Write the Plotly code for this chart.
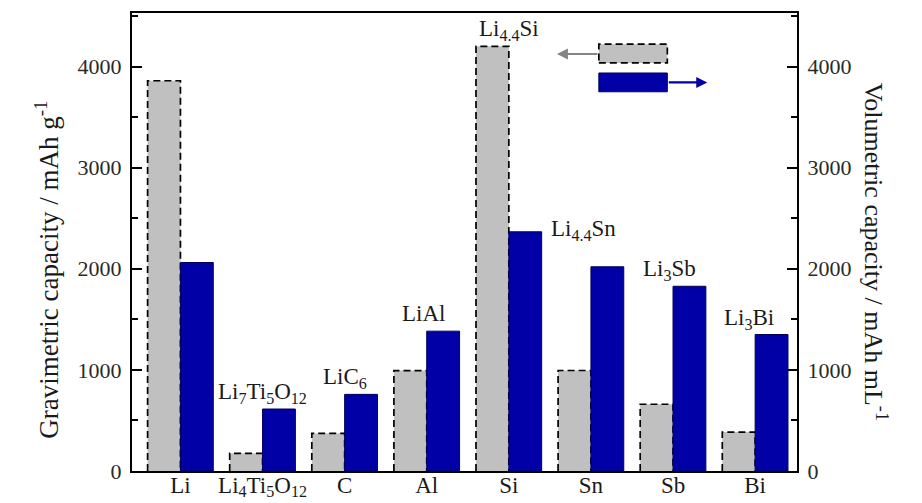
import plotly.graph_objects as go

# Anode materials and their lithiated phases
materials = ["Li", "Li<sub>4</sub>Ti<sub>5</sub>O<sub>12</sub>", "C", "Al", "Si", "Sn", "Sb", "Bi"]
phases = ["", "Li<sub>7</sub>Ti<sub>5</sub>O<sub>12</sub>", "LiC<sub>6</sub>", "LiAl",
          "Li<sub>4.4</sub>Si", "Li<sub>4.4</sub>Sn", "Li<sub>3</sub>Sb", "Li<sub>3</sub>Bi"]

# Capacities
gravimetric = [3860, 175, 372, 993, 4200, 994, 660, 385]     # mAh g-1
volumetric = [2062, 613, 758, 1383, 2366, 2020, 1827, 1350]  # mAh mL-1

y_ticks = [0, 1000, 2000, 3000, 4000]

GRAY = "#c0c0c0"
BLUE = "#0000a6"
FONT = "Liberation Serif, Times New Roman, serif"
TXT = "#1a1a1a"
BAR_W = 0.4

idx = list(range(len(materials)))

fig = go.Figure()

# gravimetric bars (left half of each group)
fig.add_trace(go.Bar(x=idx, y=gravimetric, width=BAR_W, offset=-BAR_W,
                     marker=dict(color=GRAY, line=dict(width=0)),
                     hoverinfo="skip", showlegend=False))

# dashed outline of the gravimetric bars
ox, oy = [], []
for i, g in zip(idx, gravimetric):
    ox += [i - BAR_W, i - BAR_W, i, i, None]
    oy += [0, g, g, 0, None]
fig.add_trace(go.Scatter(x=ox, y=oy, mode="lines",
                         line=dict(color="black", width=1.7, dash="7px,4px"),
                         hoverinfo="skip", showlegend=False))

# volumetric bars (right half of each group) on the right axis
fig.add_trace(go.Bar(x=idx, y=volumetric, width=BAR_W, offset=0, yaxis="y2",
                     marker=dict(color=BLUE, line=dict(color="#00005a", width=1)),
                     hoverinfo="skip", showlegend=False))

# lithiated-phase labels above the bars
label_shift = {1: (0, 0), 2: (0, 0), 3: (-3, 3), 4: (0, 0), 5: (-7, 21), 6: (-4, 0), 7: (-6, 0)}
for i, txt in enumerate(phases):
    if not txt:
        continue
    top = gravimetric[i] if gravimetric[i] > volumetric[i] else volumetric[i]
    ref = "y" if gravimetric[i] > volumetric[i] else "y2"
    dx, dy = label_shift[i]
    fig.add_annotation(x=i, y=top, xref="x", yref=ref, text=txt, showarrow=False,
                       xanchor="center", yanchor="bottom", xshift=dx, yshift=dy,
                       font=dict(family=FONT, size=23, color=TXT))

Y_RANGE = [0, 4530]
axis_common = dict(range=Y_RANGE, tickvals=y_ticks, ticks="inside", ticklen=10,
                   tickwidth=2, tickcolor="black", showline=True, linecolor="black",
                   linewidth=2, showgrid=False, zeroline=False, automargin=False,
                   ticklabelstandoff=4,
                   tickfont=dict(family=FONT, size=22, color="#2a2a2a"),
                   minor=dict(dtick=500, tick0=0, ticks="inside", ticklen=6,
                              tickwidth=2, tickcolor="black"))

fig.update_layout(
    width=922, height=503,
    margin=dict(l=132, r=125, t=13, b=32),
    paper_bgcolor="white", plot_bgcolor="white",
    barmode="overlay",
    xaxis=dict(range=[-0.59, 7.51], tickvals=idx, ticktext=materials, ticks="",
               showline=True, mirror=True, linecolor="black", linewidth=2,
               showgrid=False, zeroline=False, automargin=False,
               ticklabelstandoff=-8,
               tickfont=dict(family=FONT, size=23, color=TXT)),
    yaxis=dict(**axis_common, side="left"),
    yaxis2=dict(**axis_common, side="right", overlaying="y"),
)

# axis titles
fig.add_annotation(x=-0.156, y=0.44, xref="paper", yref="paper", showarrow=False,
                   text="Gravimetric capacity / mAh g<sup>-1</sup>", textangle=-90,
                   font=dict(family=FONT, size=27, color=TXT))
fig.add_annotation(x=1.147, y=0.478, xref="paper", yref="paper", showarrow=False,
                   text="Volumetric capacity / mAh mL<sup>-1</sup>", textangle=90,
                   font=dict(family=FONT, size=26, color=TXT))

# key: boxes with arrows pointing to their axis
fig.add_shape(type="rect", xref="paper", yref="paper", x0=0.702, x1=0.805, y0=0.891, y1=0.932,
              fillcolor=GRAY, line=dict(color="black", width=1.7, dash="7px,4px"))
fig.add_shape(type="rect", xref="paper", yref="paper", x0=0.702, x1=0.805, y0=0.828, y1=0.869,
              fillcolor=BLUE, line=dict(color="#00005a", width=1))
fig.add_annotation(x=0.639, y=0.9105, xref="paper", yref="paper", text="", showarrow=True,
                   ax=42, ay=0, arrowhead=2, arrowsize=1, arrowwidth=2.2, arrowcolor="#858585")
fig.add_annotation(x=0.865, y=0.8485, xref="paper", yref="paper", text="", showarrow=True,
                   ax=-40, ay=0, arrowhead=2, arrowsize=1, arrowwidth=2.2, arrowcolor=BLUE)

fig.write_html("out.html")
